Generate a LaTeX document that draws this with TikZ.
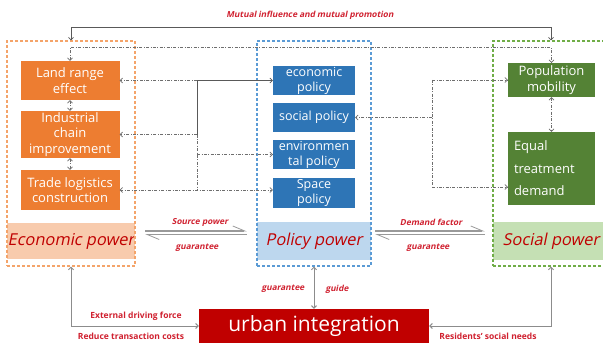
\documentclass[tikz,border=0pt]{standalone}
\usepackage{fontspec}
\setmainfont{Open Sans}
\newfontfamily\slfont[FakeSlant=0.2]{Open Sans}
\usetikzlibrary{arrows.meta}
\definecolor{ecofill}{HTML}{ED7D31}
\definecolor{ecoline}{HTML}{F4A46A}
\definecolor{ecoband}{HTML}{F8CBAD}
\definecolor{polfill}{HTML}{2E75B6}
\definecolor{polline}{HTML}{5B9BD5}
\definecolor{polband}{HTML}{BDD7EE}
\definecolor{socfill}{HTML}{548235}
\definecolor{socline}{HTML}{70AD47}
\definecolor{socband}{HTML}{C5E0B4}
\definecolor{urbred}{HTML}{C00000}
\definecolor{labred}{HTML}{D0202F}
\definecolor{dotgray}{HTML}{6E6E6E}

\begin{document}
\begin{tikzpicture}[x=1pt,y=-1pt,
	>={Straight Barb[length=2.5pt,width=5pt]},
	ecobox/.style={fill=ecofill,text=white,minimum width=99pt,inner sep=0pt,align=center,font=\fontsize{13}{15.5}\selectfont},
	polbox/.style={fill=polfill,text=white,minimum width=82pt,minimum height=29pt,inner sep=0pt,align=center,font=\fontsize{12.5}{15}\selectfont},
	socbox/.style={fill=socfill,text=white,minimum width=87pt,inner sep=0pt,align=center,font=\fontsize{13}{15.5}\selectfont},
	band/.style={text=urbred,inner sep=0pt,font=\slfont\fontsize{16.4}{18}\selectfont},
	zone/.style={line width=1.1pt,dash pattern=on 3pt off 2pt,inner sep=0pt},
	tag/.style={text=labred,inner sep=1pt,font=\slfont\bfseries\fontsize{8.3}{10}\selectfont},
	note/.style={text=labred,inner sep=1pt,font=\bfseries\fontsize{8.5}{10}\selectfont},
	link/.style={draw=black!65,line width=0.7pt},
	dd/.style={draw=dotgray,line width=0.6pt,dash pattern=on 3pt off 1.5pt on 0.8pt off 1.5pt},
	harp/.style={draw=black!40,line width=1.3pt,-{Straight Barb[harpoon,length=12pt,width=10pt,line width=0.8pt]}},
	gline/.style={draw=black!45,line width=1pt}]
	\fill[white] (0,0) rectangle (603,345);
	\clip (0,0) rectangle (603,345);

	% power bands
	\node[band,fill=ecoband,minimum width=128pt,minimum height=36pt] (ecopow) at (71,241) {Economic power};
	\node[band,fill=polband,minimum width=114pt,minimum height=38pt] (polpow) at (314,241) {Policy power};
	\node[band,fill=socband,minimum width=116pt,minimum height=38pt] (socpow) at (551,241) {Social power};

	% dashed zones
	\node[zone,draw=ecoline,minimum width=128pt,minimum height=225pt] (ecozone) at (71,153.5) {};
	\node[zone,draw=polline,minimum width=114pt,minimum height=225pt] (polzone) at (314,153.5) {};
	\node[zone,draw=socline,minimum width=116pt,minimum height=225pt] (soczone) at (551,153.5) {};

	% economic side
	\node[ecobox,minimum height=39pt] (land) at (70,80.5) {Land range\\effect};
	\node[ecobox,minimum height=47pt] (chain) at (70,134.5) {Industrial\\chain\\improvement};
	\node[ecobox,minimum height=40pt] (trade) at (70,190) {Trade logistics\\construction};

	% policy side
	\node[polbox] (ecopol) at (314,80.5) {economic\\policy};
	\node[polbox] (socpol) at (314,117.5) {social policy};
	\node[polbox] (envpol) at (314,154.5) {environmen\\tal policy};
	\node[polbox,minimum height=30pt] (spapol) at (314,193) {Space\\policy};

	% social side
	\node[socbox,minimum height=34pt] (popmob) at (551.5,80) {Population\\mobility};
	\node[socbox,minimum height=73pt,text width=75pt,align=left,font=\fontsize{13}{22.5}\selectfont] (equal) at (551.5,168.5) {Equal\\treatment\\demand};

	\node[fill=urbred,text=white,minimum width=230pt,minimum height=34pt,inner sep=0pt,font=\fontsize{21}{24}\selectfont] (urban) at (314,326) {urban integration};

	\node[tag] (mutual) at (310,15) {Mutual influence and mutual promotion};

	\draw[link,<->] (ecozone.north) -- ++(0,-13) -| (soczone.north); %top loop
	\draw[dd,<->] (land.north) -- ++(0,-13) -| (popmob.north);
	\draw[dd,<->] (land.south) -- (chain.north);
	\draw[dd,<->] (chain.south) -- (trade.north);
	\draw[dd,<->] (popmob.south) -- (equal.north);

	% left hub
	\coordinate (hubL) at (197,80.5);
	\draw[link,->] (hubL) -- (ecopol.west);
	\draw[dd,->] (hubL) -- (land.east);
	\draw[link] (hubL) -- (hubL |- chain.east);
	\draw[dd,->] (hubL |- chain.east) -- (chain.east);
	\draw[dd] (hubL |- chain.east) -- (hubL |- trade.east);
	\draw[dd,->] (hubL |- envpol.west) -- (envpol.west);
	\draw[dd,<->] (trade.east) -- (trade.east -| spapol.west);

	% right hub
	\coordinate (hubR) at (432,80);
	\coordinate (eqin) at ([yshift=-18.5pt]equal.west);
	\draw[dd,->] (hubR) -- (popmob.west);
	\draw[dd,->] (hubR |- socpol.east) -- (socpol.east);
	\draw[dd] (hubR) -- (hubR |- eqin);
	\draw[dd,->] (hubR |- eqin) -- (eqin);

	% harpoons between the powers
	\draw[harp] ([xshift=10pt,yshift=10pt]ecopow.east) -- ([xshift=-10pt,yshift=10pt]polpow.west);
	\draw[harp] ([xshift=-10pt,yshift=6.5pt]polpow.west) -- ([xshift=10pt,yshift=6.5pt]ecopow.east);
	\draw[harp] ([xshift=4pt,yshift=10pt]polpow.east) -- ([xshift=-8pt,yshift=10pt]socpow.west);
	\draw[harp] ([xshift=-8pt,yshift=6.5pt]socpow.west) -- ([xshift=4pt,yshift=6.5pt]polpow.east);
	\node[tag] (srcpow) at (200,222) {Source power};
	\node[tag] (guar1) at (197,248) {guarantee};
	\node[tag] (demfac) at (431,222) {Demand factor};
	\node[tag] (guar2) at (428,248) {guarantee};

	% down to urban integration
	\draw[gline,<->] (ecozone.south) |- (urban.west);
	\draw[gline,<->] (polzone.south) -- (urban.north);
	\draw[gline,<->] (soczone.south) |- (urban.east);
	\node[note] (extf) at (136,316) {External driving force};
	\node[note] (redc) at (131,336) {Reduce transaction costs};
	\node[note] (resn) at (488,336) {Residents' social needs};
	\node[tag] (guar3) at (283,289) {guarantee};
	\node[tag] (guide) at (337,289) {guide};
\end{tikzpicture}
\end{document}
